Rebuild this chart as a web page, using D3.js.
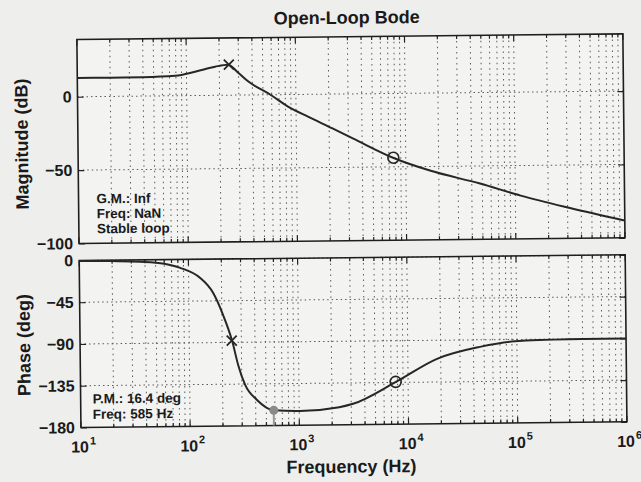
<!DOCTYPE html>
<html>
<head>
<meta charset="utf-8">
<script src="https://cdn.jsdelivr.net/npm/d3@7"></script>
<style>
  html, body { margin: 0; padding: 0; background: #eeeeec; }
  svg { display: block; font-family: "Liberation Sans", Arial, sans-serif; font-weight: bold; }
</style>
</head>
<body>
<div id="chart"></div>
<script>
// magnitude curve (Hz, dB)
const magFreq = [10, 20, 40, 79, 120, 183, 240, 300, 366, 585, 845, 1285, 2150, 3325, 7650, 16600, 47600, 112000, 316000, 1000000];
const magDb = [12.8, 12.8, 12.9, 13.6, 16.2, 19.5, 20.8, 15.0, 9.3, 0, -8.2, -15.2, -23.4, -30.5, -43.8, -52.8, -62, -70.5, -79.3, -88.3];

// phase curve (Hz, deg)
const phFreq = [10, 20, 36, 60, 84, 127, 167, 205, 247, 279, 322, 412, 585, 1016, 2330, 3120, 7740, 18500, 45800, 96000, 300000, 1000000];
const phDeg = [-0.5, -1, -2, -4.5, -9, -19.9, -36.3, -60.1, -88.3, -114.3, -136, -152.3, -163.6, -164.7, -161, -157.5, -134.4, -110, -97.6, -92, -90.5, -90.2];

// markers
const peakFreq = 245, peakMag = 20.8, peakPhase = -88;
const ringFreq = 7700, ringMag = -43.8, ringPhase = -134.4;
const pmFreq = 585, pmPhase = -163.6;

const magTicks = [-100, -50, 0];
const phTicks = [-180, -135, -90, -45, 0];
const decades = [1, 2, 3, 4, 5, 6];

const gmText = ["G.M.: Inf", "Freq: NaN", "Stable loop"];
const pmText = ["P.M.: 16.4 deg", "Freq: 585 Hz"];

const width = 641;
const height = 482;
const left = 79, right = 625;
const magTop = 37, magBottom = 241;
const phTop = 258, phBottom = 425;

const svg = d3.select("#chart").append("svg")
  .attr("width", width)
  .attr("height", height);

svg.append("rect")
  .attr("width", width)
  .attr("height", height)
  .attr("fill", "#eeeeec");

// the scan sits slightly tilted
const g = svg.append("g").attr("transform", "rotate(-0.6, 320, 240)");

const x = d3.scaleLog().domain([10, 1e6]).range([left, right]);
const yMag = d3.scaleLinear().domain([-100, 39]).range([magBottom, magTop]);
const yPh = d3.scaleLinear().domain([-180, 0]).range([phBottom, phTop]);

const allX = x.ticks();
const isMajor = (d) => Math.abs(Math.log10(d) - Math.round(Math.log10(d))) < 1e-9;

function drawPanel(y, top, bottom, ticks) {
  const p = g.append("g");

  p.append("rect")
    .attr("x", left)
    .attr("y", top)
    .attr("width", right - left)
    .attr("height", bottom - top)
    .attr("fill", "#f3f3f1");

  p.selectAll("line.vgrid")
    .data(allX.filter((d) => d > 10 && d < 1e6))
    .enter()
    .append("line")
    .attr("x1", (d) => x(d))
    .attr("x2", (d) => x(d))
    .attr("y1", top)
    .attr("y2", bottom)
    .attr("stroke", "#5a5a5a")
    .attr("stroke-width", 1)
    .attr("stroke-dasharray", "1.5 4");

  p.selectAll("line.hgrid")
    .data(ticks.filter((d) => d !== y.domain()[0]))
    .enter()
    .append("line")
    .attr("x1", left)
    .attr("x2", right)
    .attr("y1", (d) => y(d))
    .attr("y2", (d) => y(d))
    .attr("stroke", "#5a5a5a")
    .attr("stroke-width", 1)
    .attr("stroke-dasharray", "1.5 3");

  // tick marks inside, top and bottom
  [top, bottom].forEach((edge, k) => {
    const dir = k === 0 ? 1 : -1;
    p.selectAll(null)
      .data(allX)
      .enter()
      .append("line")
      .attr("x1", (d) => x(d))
      .attr("x2", (d) => x(d))
      .attr("y1", edge)
      .attr("y2", (d) => edge + dir * (isMajor(d) ? 6 : 3.5))
      .attr("stroke", "#222")
      .attr("stroke-width", 1.2);
  });

  // left axis with labels, right ticks
  const axL = p.append("g")
    .attr("transform", `translate(${left},0)`)
    .call(d3.axisLeft(y).tickValues(ticks).tickSize(-6).tickPadding(6).tickFormat(d3.format("d")));
  axL.select(".domain").remove();
  axL.selectAll("line").attr("stroke", "#222").attr("stroke-width", 1.2);
  axL.selectAll("text")
    .attr("font-size", 16)
    .attr("font-family", "Liberation Sans, Arial, sans-serif")
    .attr("font-weight", "bold")
    .attr("fill", "#1a1a1a");

  const axR = p.append("g")
    .attr("transform", `translate(${right},0)`)
    .call(d3.axisRight(y).tickValues(ticks).tickSize(-6).tickFormat(""));
  axR.select(".domain").remove();
  axR.selectAll("line").attr("stroke", "#222").attr("stroke-width", 1.2);

  p.append("rect")
    .attr("x", left)
    .attr("y", top)
    .attr("width", right - left)
    .attr("height", bottom - top)
    .attr("fill", "none")
    .attr("stroke", "#1e1e1e")
    .attr("stroke-width", 1.6);
}

drawPanel(yMag, magTop, magBottom, magTicks);
drawPanel(yPh, phTop, phBottom, phTicks);

// curves
const magData = magFreq.map((f, i) => ({ f, v: magDb[i] }));
const phData = phFreq.map((f, i) => ({ f, v: phDeg[i] }));

g.append("path")
  .datum(magData)
  .attr("fill", "none")
  .attr("stroke", "#262626")
  .attr("stroke-width", 2)
  .attr("d", d3.line().x((d) => x(d.f)).y((d) => yMag(d.v)).curve(d3.curveMonotoneX));

// grey line under the P.M. dot
g.append("line")
  .attr("x1", x(pmFreq))
  .attr("x2", x(pmFreq))
  .attr("y1", yPh(pmPhase))
  .attr("y2", yPh(-180))
  .attr("stroke", "#9a9a9a")
  .attr("stroke-width", 2);

g.append("path")
  .datum(phData)
  .attr("fill", "none")
  .attr("stroke", "#262626")
  .attr("stroke-width", 2)
  .attr("d", d3.line().x((d) => x(d.f)).y((d) => yPh(d.v)).curve(d3.curveMonotoneX));

// X markers
[[peakFreq, yMag(peakMag)], [peakFreq, yPh(peakPhase)]].forEach(([f, py]) => {
  const px = x(f);
  const s = 5;
  g.append("path")
    .attr("d", `M${px - s},${py - s}L${px + s},${py + s}M${px - s},${py + s}L${px + s},${py - s}`)
    .attr("stroke", "#262626")
    .attr("stroke-width", 1.8);
});

// open circles
g.selectAll("circle.ring")
  .data([yMag(ringMag), yPh(ringPhase)])
  .enter()
  .append("circle")
  .attr("cx", x(ringFreq))
  .attr("cy", (d) => d)
  .attr("r", 5.5)
  .attr("fill", "none")
  .attr("stroke", "#262626")
  .attr("stroke-width", 1.6);

g.append("circle")
  .attr("cx", x(pmFreq))
  .attr("cy", yPh(pmPhase))
  .attr("r", 4.5)
  .attr("fill", "#8a8a8a");

// x tick labels 10^n
const xl = g.selectAll("text.xlab")
  .data(decades)
  .enter()
  .append("text")
  .attr("x", (d) => x(Math.pow(10, d)) - 10)
  .attr("y", phBottom + 25)
  .attr("font-size", 16)
  .attr("fill", "#1a1a1a");
xl.append("tspan").text("10");
xl.append("tspan")
  .attr("dy", -8)
  .attr("dx", 1)
  .attr("font-size", 11)
  .text((d) => d);

// texts
g.append("text")
  .attr("x", 349)
  .attr("y", 24)
  .attr("text-anchor", "middle")
  .attr("font-size", 18)
  .attr("fill", "#1a1a1a")
  .text("Open-Loop Bode");

g.append("text")
  .attr("x", 349)
  .attr("y", 473)
  .attr("text-anchor", "middle")
  .attr("font-size", 18)
  .attr("fill", "#1a1a1a")
  .text("Frequency (Hz)");

g.append("text")
  .attr("transform", "translate(29,141) rotate(-90)")
  .attr("text-anchor", "middle")
  .attr("font-size", 18)
  .attr("fill", "#1a1a1a")
  .text("Magnitude (dB)");

g.append("text")
  .attr("transform", "translate(29,342) rotate(-90)")
  .attr("text-anchor", "middle")
  .attr("font-size", 18)
  .attr("fill", "#1a1a1a")
  .text("Phase (deg)");

g.selectAll("text.gm")
  .data(gmText)
  .enter()
  .append("text")
  .attr("x", 97)
  .attr("y", (d, i) => 201 + i * 15)
  .attr("font-size", 13.5)
  .attr("fill", "#1a1a1a")
  .text((d) => d);

g.selectAll("text.pm")
  .data(pmText)
  .enter()
  .append("text")
  .attr("x", 91)
  .attr("y", (d, i) => 401 + i * 15.5)
  .attr("font-size", 13.5)
  .attr("fill", "#1a1a1a")
  .text((d) => d);
</script>
</body>
</html>
